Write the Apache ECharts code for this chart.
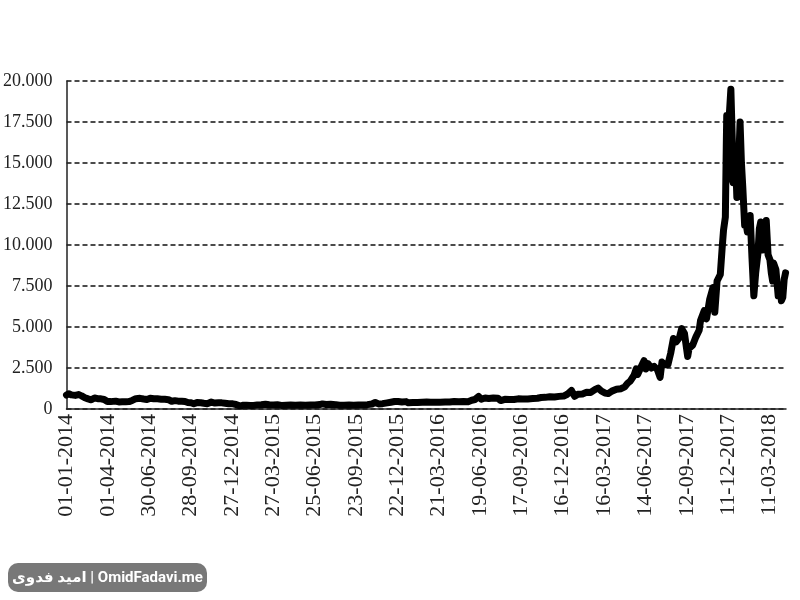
<!DOCTYPE html>
<html>
<head>
<meta charset="utf-8">
<script src="https://cdn.jsdelivr.net/npm/echarts@6/dist/echarts.min.js"></script>
<style>html,body{margin:0;padding:0;background:#fff}#c{width:800px;height:600px}</style>
</head>
<body>
<div id="c"></div>
<script>
var tickLabels = ['01-01-2014','01-04-2014','30-06-2014','28-09-2014','27-12-2014','27-03-2015','25-06-2015','23-09-2015','22-12-2015','21-03-2016','19-06-2016','17-09-2016','16-12-2016','16-03-2017','14-06-2017','12-09-2017','11-12-2017','11-03-2018'];
var yTicks = [0, 2500, 5000, 7500, 10000, 12500, 15000, 17500, 20000];

var dates = [
'2014-01-01','2014-01-06','2014-01-12','2014-01-20','2014-01-27','2014-02-03','2014-02-10','2014-02-17','2014-02-24','2014-03-03',
'2014-03-10','2014-03-17','2014-03-24','2014-03-31','2014-04-07','2014-04-11','2014-04-18','2014-04-25','2014-05-02','2014-05-10',
'2014-05-17','2014-05-24','2014-06-01','2014-06-04','2014-06-10','2014-06-18','2014-06-25','2014-07-02','2014-07-10','2014-07-18',
'2014-07-26','2014-08-03','2014-08-11','2014-08-18','2014-08-25','2014-09-01','2014-09-09','2014-09-16','2014-09-22','2014-09-29',
'2014-10-05','2014-10-12','2014-10-20','2014-10-27','2014-11-03','2014-11-12','2014-11-20','2014-11-28','2014-12-05','2014-12-12',
'2014-12-20','2014-12-29','2015-01-05','2015-01-14','2015-01-21','2015-01-28','2015-02-05','2015-02-12','2015-02-20','2015-03-01',
'2015-03-10','2015-03-18','2015-03-27','2015-04-05','2015-04-14','2015-04-24','2015-05-04','2015-05-14','2015-05-25','2015-06-05',
'2015-06-16','2015-06-26','2015-07-06','2015-07-12','2015-07-20','2015-07-30','2015-08-10','2015-08-18','2015-08-28','2015-09-08',
'2015-09-18','2015-09-28','2015-10-08','2015-10-18','2015-10-28','2015-11-04','2015-11-11','2015-11-20','2015-11-30','2015-12-08',
'2015-12-16','2015-12-24','2016-01-01','2016-01-10','2016-01-15','2016-01-25','2016-02-04','2016-02-14','2016-02-24','2016-03-04',
'2016-03-14','2016-03-24','2016-04-04','2016-04-14','2016-04-24','2016-05-04','2016-05-14','2016-05-24','2016-06-01','2016-06-08',
'2016-06-16','2016-06-22','2016-06-30','2016-07-08','2016-07-18','2016-07-28','2016-08-03','2016-08-12','2016-08-22','2016-09-01',
'2016-09-10','2016-09-20','2016-10-01','2016-10-12','2016-10-22','2016-10-30','2016-11-08','2016-11-18','2016-11-28','2016-12-08',
'2016-12-18','2016-12-26','2017-01-04','2017-01-11','2017-01-18','2017-01-28','2017-02-06','2017-02-15','2017-02-24','2017-03-03',
'2017-03-10','2017-03-18','2017-03-25','2017-04-02','2017-04-12','2017-04-22','2017-04-30','2017-05-06','2017-05-12','2017-05-20',
'2017-05-25','2017-05-28','2017-06-04','2017-06-11','2017-06-15','2017-06-20','2017-06-27','2017-07-03','2017-07-10','2017-07-16',
'2017-07-20','2017-07-27','2017-08-02','2017-08-08','2017-08-14','2017-08-20','2017-08-27','2017-09-01','2017-09-07','2017-09-14',
'2017-09-17','2017-09-25','2017-10-02','2017-10-09','2017-10-12','2017-10-20','2017-10-25','2017-11-01','2017-11-08','2017-11-12',
'2017-11-17','2017-11-24','2017-11-28','2017-12-01','2017-12-05','2017-12-07','2017-12-08','2017-12-10','2017-12-12','2017-12-17',
'2017-12-20','2017-12-22','2017-12-25','2017-12-27','2017-12-30','2018-01-03','2018-01-06','2018-01-09','2018-01-12','2018-01-16',
'2018-01-18','2018-01-22','2018-01-28','2018-02-01','2018-02-05','2018-02-09','2018-02-14','2018-02-17','2018-02-20','2018-02-24',
'2018-02-28','2018-03-04','2018-03-08','2018-03-12','2018-03-15','2018-03-18','2018-03-20','2018-03-25','2018-03-30','2018-04-03',
'2018-04-06','2018-04-09','2018-04-12','2018-04-15'
];
var prices = [
850,930,860,830,880,800,690,620,560,670,
630,620,580,460,450,380,480,430,440,440,
450,520,630,670,650,610,580,650,620,620,
600,590,570,470,510,480,475,460,400,380,
320,390,380,350,325,420,360,375,375,350,
320,315,275,180,230,230,220,220,245,260,
290,255,245,255,220,230,240,236,240,225,
250,245,270,310,275,285,265,225,230,240,
230,240,245,265,305,400,310,325,375,415,
455,455,430,450,380,390,390,405,420,410,
415,415,420,425,460,445,455,445,535,580,
765,600,670,640,670,655,515,590,585,575,
620,610,615,640,655,700,710,750,730,770,
790,900,1130,780,900,920,1020,1010,1180,1280,
1100,970,940,1090,1200,1240,1350,1560,1700,2040,
2450,2100,2530,2950,2440,2760,2500,2600,2400,1930,
2860,2700,2710,3400,4300,4100,4350,4900,4600,3200,
3700,3900,4400,4800,5400,6000,5500,6700,7400,5900,
7800,8200,9800,10900,11700,16000,17900,14000,17200,19500,
16500,13800,14000,15500,12900,15000,17500,15000,13500,11200,
11500,10800,11800,9200,6900,8300,9500,11000,11400,9700,
10500,11500,9400,9100,8300,7800,8900,8500,6900,7400,
6600,6800,7900,8300
];

var base = Date.UTC(2014, 0, 1);
var seriesData = dates.map(function (d, i) {
  var p = d.split('-');
  var day = Math.round((Date.UTC(+p[0], +p[1] - 1, +p[2]) - base) / 86400000);
  return [day, prices[i]];
});

var SERIF = '"Liberation Serif", "Times New Roman", Times, "DejaVu Serif", serif';

var chart = echarts.init(document.getElementById('c'), null, {renderer: 'canvas'});
chart.setOption({
  animation: false,
  backgroundColor: '#fff',
  grid: {left: 65, right: 14, top: 81, bottom: 191, containLabel: false},
  xAxis: {
    type: 'value', min: 0, max: 1566, interval: 90,
    axisLine: {show: true, onZero: false, lineStyle: {color: '#222', width: 1.5}},
    axisTick: {show: false},
    splitLine: {show: false},
    axisLabel: {
      rotate: 90, margin: 5, showMaxLabel: false,
      fontFamily: SERIF, fontSize: 22, color: '#222',
      formatter: function (v) { var i = v / 90; return (i === Math.round(i) && tickLabels[i]) ? tickLabels[i] : ''; }
    }
  },
  yAxis: {
    type: 'value', min: yTicks[0], max: yTicks[yTicks.length - 1], interval: 2500,
    axisLine: {show: true, lineStyle: {color: '#222', width: 1.5}},
    axisTick: {show: false},
    splitLine: {show: true, lineStyle: {color: '#111', width: 1.6, type: [5, 3]}},
    axisLabel: {
      margin: 14, fontFamily: SERIF, fontSize: 18, color: '#222',
      formatter: function (v) { return v === 0 ? '0' : v.toLocaleString('en-US').replace(/,/g, '.'); }
    }
  },
  series: [{
    type: 'line', data: seriesData, showSymbol: false, symbol: 'none',
    lineStyle: {color: '#000', width: 7, join: 'round', cap: 'round'},
    z: 5
  }],
  graphic: [{
    type: 'group', left: 8, top: 563,
    children: [
      {type: 'rect', shape: {x: 0, y: 0, width: 199, height: 29, r: 10}, style: {fill: '#787878'}},
      {type: 'text', x: 99.5, y: 15, style: {text: 'امید فدوی | OmidFadavi.me', fill: '#fff', font: 'bold 15px Roboto, "DejaVu Sans", sans-serif', textAlign: 'center', textVerticalAlign: 'middle'}}
    ]
  }]
});
</script>
</body>
</html>
